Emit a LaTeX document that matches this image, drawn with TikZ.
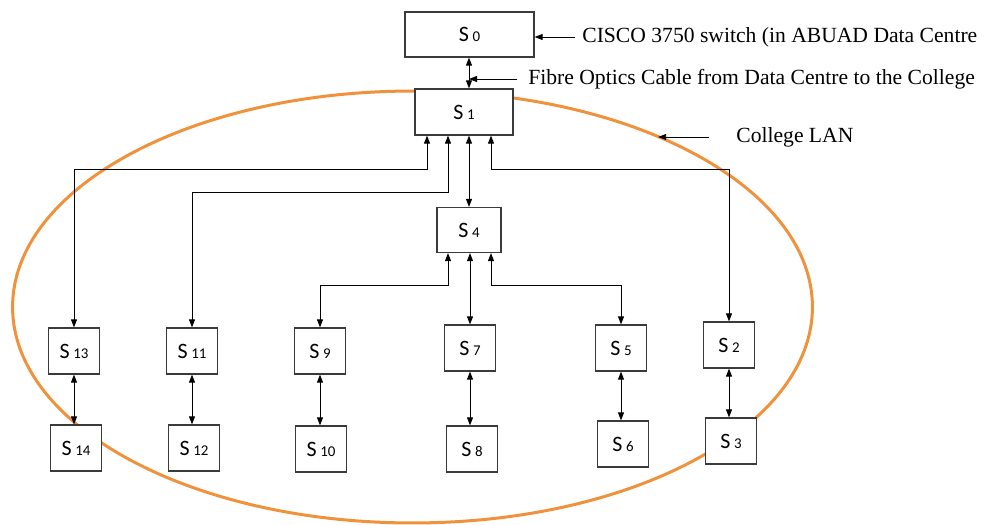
\documentclass[tikz,border=0pt]{standalone}
\usepackage{fontspec}
\setmainfont{Liberation Serif}
\newfontfamily\boxfont{Carlito}
\usetikzlibrary{shapes.geometric,arrows.meta}
\definecolor{LanOrange}{HTML}{F0923C}
\definecolor{BoxGrey}{HTML}{3A3A3A}
\newcommand{\swlabel}[1]{S\,{\fontsize{8.5}{9}\selectfont #1}}

\begin{document}
\begin{tikzpicture}[x=0.02cm,y=-0.02cm,
  swbox/.style={rectangle,draw=BoxGrey,fill=white,line width=0.7pt,
    minimum width=1.02cm,minimum height=0.92cm,inner sep=0pt,
    font=\boxfont\fontsize{12.5}{14}\selectfont},
  note/.style={anchor=west,inner sep=0pt,font=\fontsize{12.3}{15}\selectfont},
  link/.style={line width=0.5pt,
    {Triangle[length=1.6mm,width=1.2mm]}-{Triangle[length=1.6mm,width=1.2mm]}},
  tip/.style={line width=0.5pt,-{Triangle[length=1.6mm,width=1.2mm]}}]
  \useasboundingbox (0,0) rectangle (986,524);
  \node[ellipse,draw=LanOrange,line width=0.06cm,minimum width=16cm,
    minimum height=8.64cm,inner sep=0pt] (lan) at (412.5,307) {};
  \node[swbox,minimum width=2.58cm,minimum height=0.9cm] (s0) at (469.5,34.5) {\swlabel{0}};
  \node[swbox,minimum width=1.96cm] (s1) at (464,112) {\swlabel{1}};
  \node[swbox,minimum width=1.28cm,minimum height=0.9cm] (s4) at (469,230) {\swlabel{4}};
  \foreach \n/\x/\y in {13/74/351,11/192/351,9/320/351,7/470/348,5/621/348,2/729/345,
    14/76/448,12/194/448,10/321/449,8/472/449,6/623/444,3/731/441}
    {\node[swbox] (s\n) at (\x,\y) {\swlabel{\n}};}
  \draw[link] ([xshift=0.1cm]s1.north) coordinate (fb) -- (fb |- s0.south);
  \draw[link] ([xshift=-0.74cm]s1.south) -- ++(0,34) -| (s13.north);
  \draw[link] ([xshift=-0.32cm]s1.south) -- ++(0,57) -| (s11.north);
  \draw[link] (s4.north |- s1.south) -- (s4.north);
  \draw[link] ([xshift=0.54cm]s1.south) -- ++(0,34) -| (s2.north);
  \draw[link] ([xshift=-0.42cm]s4.south) -- ++(0,32) -| (s9.north);
  \draw[link] (s7.north |- s4.south) -- (s7.north);
  \draw[link] ([xshift=0.44cm]s4.south) -- ++(0,32) -| (s5.north);
  \foreach \a/\b in {13/14,11/12,9/10,7/8,5/6,2/3}
    {\draw[link] (s\a.south) -- (s\a.south |- s\b.north);}
  \node[note] (cisco) at (582,37) {CISCO 3750 switch (in ABUAD Data Centre};
  \draw[tip] ([xshift=-0.14cm]cisco.west) -- (cisco.west -| s0.east);
  \node[note] (fibre) at (528,79) {Fibre Optics Cable from Data Centre to the College};
  \draw[tip] ([xshift=-0.22cm]fibre.west) -- (fibre.west -| fb);
  \node[note] (lanlabel) at (736,137) {College LAN};
  \draw[tip] ([xshift=-0.54cm]lanlabel.west) -- (lanlabel.west -| lan.35);
\end{tikzpicture}
\end{document}
